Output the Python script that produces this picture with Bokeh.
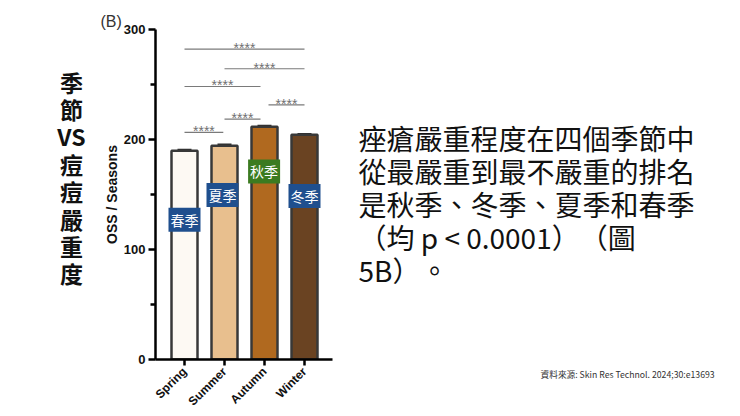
import math
from bokeh.plotting import figure
from bokeh.layouts import row
from bokeh.models import Range1d, FixedTicker, Label, ColumnDataSource, Whisker, TeeHead, Title
from bokeh.core.properties import value
from bokeh.embed import file_html
from bokeh.resources import INLINE

# ---------------- data ----------------
seasons = ["Spring", "Summer", "Autumn", "Winter"]
oss = [189.7, 194.4, 211.5, 204.3]
oss_err = [1.0, 1.0, 1.0, 0.8]
bar_colors = ["#fdf9f3", "#e8bf8e", "#b0691f", "#6a4322"]
season_tags = ["春季", "夏季", "秋季", "冬季"]
tag_colors = ["#1f4f8e", "#1f4f8e", "#3b7b20", "#1f4f8e"]
y_ticks = [0, 100, 200, 300]
y_minor = [50, 150, 250]
sig_x0 = [0, 1, 2.1, 0, 1, 0]
sig_x1 = [0.97, 1.9, 3, 1.9, 3, 3]
sig_y = [206.4, 218.5, 231.5, 248.2, 264.3, 282.1]
sig_text = ["****"] * 6
title_chars = ["季", "節", "VS", "痘", "痘", "嚴", "重", "度"]
body_lines = [
    "痤瘡嚴重程度在四個季節中",
    "從最嚴重到最不嚴重的排名",
    "是秋季、冬季、夏季和春季",
    "（均 p < 0.0001）\u200b（圖",
    "5B）\u200b。",
]
source_note = "資料來源: Skin Res Technol. 2024;30:e13693"
panel_tag = "(B)"

# label placement (layout)
tag_x = [0, 0.95, 1.99, 3]
tag_y = [127, 149.5, 171, 148.6]

CJK = "Noto Sans CJK TC"
LAT = "Liberation Sans"
TOP, BOTTOM = 29, 57          # shared borders -> frames span page y 29..359
FRAME_TOP, FRAME_BOT = 29, 359


def text_panel(width, x0):
    f = figure(width=width, height=416, x_range=Range1d(x0, x0 + width),
               y_range=Range1d(FRAME_BOT, FRAME_TOP),
               x_axis_location=None, y_axis_location=None, title=None,
               output_backend="svg", toolbar_location=None,
               min_border_left=0, min_border_right=0,
               min_border_top=TOP, min_border_bottom=BOTTOM)
    f.outline_line_color = None
    f.grid.visible = False
    return f


# ---------------- left title ----------------
pl = text_panel(100, 0)
n = len(title_chars)
pl.text(x=[71] * n, y=[81 + 27.4 * i for i in range(n)], text=title_chars,
        text_align="center", text_baseline="middle", text_font=value(CJK),
        text_font_style="bold", text_font_size="23px", text_color="#111111")

# ---------------- bar chart ----------------
p = figure(width=240, height=416, x_range=Range1d(-0.725, 3.7), y_range=Range1d(0, 300),
           title=None, output_backend="svg", toolbar_location=None,
           min_border_left=55, min_border_right=8, min_border_top=TOP, min_border_bottom=BOTTOM)
p.outline_line_color = None
p.grid.visible = False

xs = list(range(len(seasons)))
src = ColumnDataSource(dict(x=xs, top=oss, color=bar_colors,
                            up=[o + e for o, e in zip(oss, oss_err)]))
p.vbar(x="x", top="top", width=0.65, bottom=0, fill_color="color",
       line_color="#383838", line_width=2.5, source=src)
p.add_layout(Whisker(base="x", upper="up", lower="top", source=src,
                     line_color="#2a2a2a", line_width=2,
                     upper_head=TeeHead(size=14, line_color="#2a2a2a", line_width=2),
                     lower_head=None))

p.segment(x0=sig_x0, y0=sig_y, x1=sig_x1, y1=sig_y, line_color="#7a7a7a", line_width=1.2)
p.text(x=[(a + b) / 2 for a, b in zip(sig_x0, sig_x1)], y=sig_y, text=sig_text,
       text_align="center", text_baseline="alphabetic", y_offset=-1,
       text_font=value(LAT), text_font_size="14px", text_color="#707070")

for t, tx, ty, c in zip(season_tags, tag_x, tag_y, tag_colors):
    p.add_layout(Label(x=tx, y=ty, text=t, text_color="white", text_font=CJK,
                       text_font_size="14px", text_align="center", text_baseline="middle",
                       background_fill_color=c, padding=2))

p.add_layout(Title(text=panel_tag, align="left", offset=-55, standoff=0,
                   text_font=LAT, text_font_style="normal", text_font_size="16px",
                   text_color="#333333"), "above")

yax = p.yaxis[0]
yax.ticker = FixedTicker(ticks=y_ticks, minor_ticks=y_minor)
yax.bounds = (0, 300)
yax.axis_label = "OSS / Seasons"
yax.axis_label_text_font = LAT
yax.axis_label_text_font_style = "bold"
yax.axis_label_text_font_size = "14px"
yax.axis_label_text_color = "#111111"
yax.axis_label_standoff = 1
yax.major_label_text_font = LAT
yax.major_label_text_font_style = "bold"
yax.major_label_text_font_size = "13px"
yax.major_label_text_color = "#111111"
yax.major_label_standoff = 3
yax.axis_line_width = 2.5
yax.major_tick_line_width = 2.5
yax.minor_tick_line_width = 2.5
yax.major_tick_out = 7
yax.major_tick_in = 0
yax.minor_tick_out = 5
yax.minor_tick_in = 0

xax = p.xaxis[0]
xax.ticker = FixedTicker(ticks=xs)
xax.major_label_overrides = {i: s for i, s in enumerate(seasons)}
xax.major_label_orientation = math.pi / 4
xax.major_label_text_font = LAT
xax.major_label_text_font_style = "bold"
xax.major_label_text_font_size = "12px"
xax.major_label_text_color = "#111111"
xax.major_label_standoff = 4
xax.minor_tick_line_color = None
xax.axis_line_width = 2.5
xax.major_tick_line_width = 2.5
xax.major_tick_out = 6
xax.major_tick_in = 0

# ---------------- right text ----------------
pr = text_panel(396, 340)
m = len(body_lines)
pr.text(x=[358] * m, y=[137 + 33 * i for i in range(m)], text=body_lines,
        text_align="left", text_baseline="middle", text_font=value(CJK),
        text_font_size="28px", text_color="#111111")
pr.add_layout(Title(text=source_note, align="left", offset=200, standoff=12,
                    text_font=CJK, text_font_style="normal", text_font_size="8.7px",
                    text_color="#333333"), "below")

layout = row(pl, p, pr)
open("out.html", "w").write(file_html(layout, INLINE))
